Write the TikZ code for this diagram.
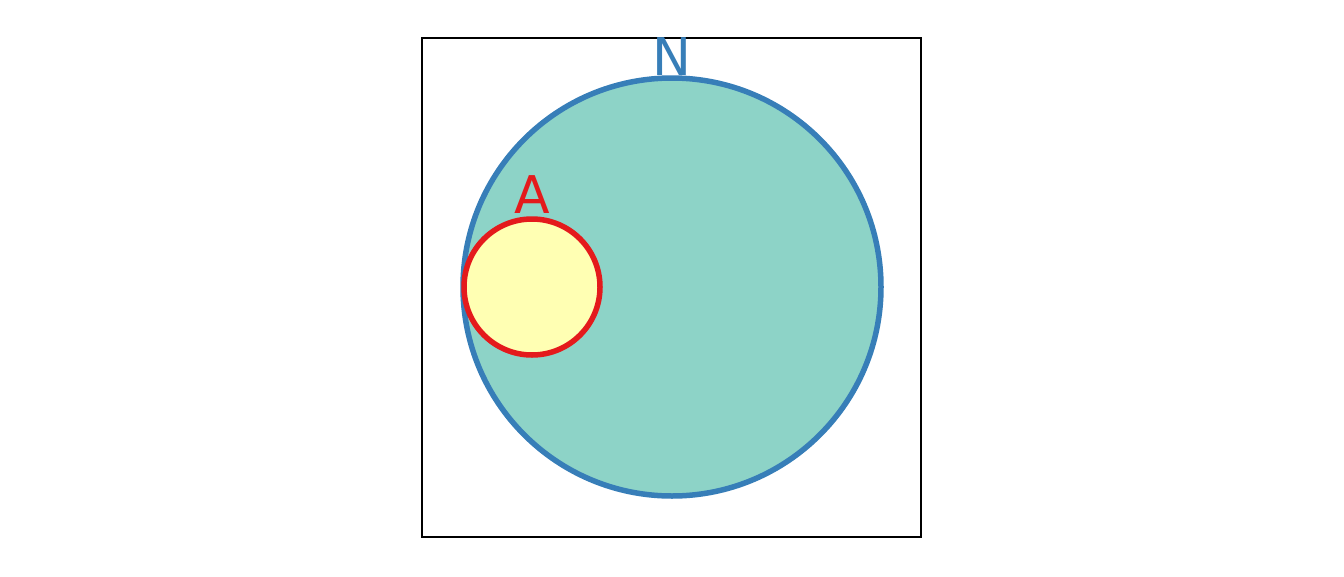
\documentclass[tikz,border=0pt]{standalone}
\usepackage{fontspec}
\setmainfont{DejaVu Sans}
\definecolor{teal1}{HTML}{8DD3C7}
\definecolor{blue1}{HTML}{377EB8}
\definecolor{red1}{HTML}{E41A1C}
\definecolor{yel1}{HTML}{FFFFB3}
\begin{document}
\begin{tikzpicture}[x=1pt,y=-1pt,
  lbl/.style={inner sep=0pt,font=\fontsize{52}{52}\selectfont}]
\useasboundingbox (0,0) rectangle (1344,576);
\draw[line width=1.5pt] (422,38) rectangle (921,537);
\node[circle,draw=blue1,fill=teal1,line width=5.5pt,minimum size=418pt,inner sep=0pt] (N) at (672,287) {};
\node[circle,draw=red1,fill=yel1,line width=5.5pt,minimum size=136pt,inner sep=0pt] (A) at (532,287) {};
\node[lbl,text=blue1,anchor=base] (Nl) at (672,75) {N};
\node[lbl,text=red1,anchor=base] (Al) at (532,213) {A};
\end{tikzpicture}
\end{document}
